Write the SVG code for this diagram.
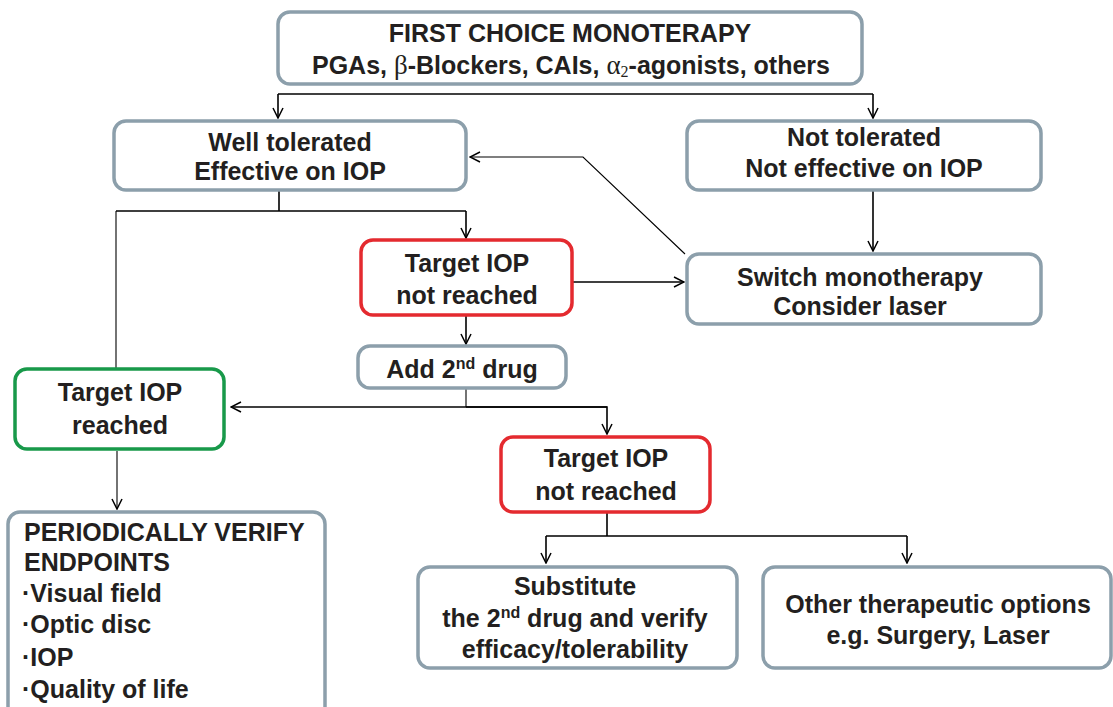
<svg xmlns="http://www.w3.org/2000/svg" width="1113" height="707" viewBox="0 0 1113 707">
<defs>
<marker id="arr" viewBox="0 0 12 12" refX="11" refY="6" markerWidth="12" markerHeight="12" markerUnits="userSpaceOnUse" orient="auto">
<path d="M1,1 L11,6 L1,11" fill="none" stroke="#000" stroke-width="1.5"/>
</marker>
<style>
.box{fill:#fff;stroke:#8c9fab;stroke-width:3.5}
.red{fill:#fff;stroke:#e42a2f;stroke-width:3.5}
.green{fill:#fff;stroke:#18994a;stroke-width:3.5}
.t{font-family:"Liberation Sans",Arial,sans-serif;font-weight:bold;font-size:25px;fill:#231f20;text-anchor:middle}
.l{text-anchor:start}
.g{font-family:"Liberation Serif","Times New Roman",serif;font-weight:normal}
.c{fill:none;stroke:#000;stroke-width:1.6}
.thin{fill:none;stroke:#000;stroke-width:1.1}
</style>
</defs>
<rect width="1113" height="707" fill="#fff"/>

<g id="connectors">
<path class="c" d="M278,94 H873"/>
<path class="c" d="M278,94 V118" marker-end="url(#arr)"/>
<path class="c" d="M873,94 V118" marker-end="url(#arr)"/>
<path class="c" d="M279,191 V211 M116,211 H466"/>
<path class="c" d="M466,211 V238" marker-end="url(#arr)"/>
<path class="thin" d="M116,211 V368"/>
<path class="c" d="M873,191 V251" marker-end="url(#arr)"/>
<path class="c" d="M573,282 H684" marker-end="url(#arr)"/>
<path class="thin" d="M685,254 L583,157 H470" marker-end="url(#arr)"/>
<path class="c" d="M466,316 V344" marker-end="url(#arr)"/>
<path class="thin" d="M466,389 V407"/>
<path class="c" d="M607,407 H231" marker-end="url(#arr)"/>
<path class="c" d="M466,407 H607 V434" marker-end="url(#arr)"/>
<path class="thin" d="M117,451 V509" marker-end="url(#arr)"/>
<path class="c" d="M607,513 V536 M546,536 H907"/>
<path class="c" d="M546,536 V563" marker-end="url(#arr)"/>
<path class="c" d="M907,536 V563" marker-end="url(#arr)"/>
</g>

<g id="first-choice">
<rect class="box" x="278" y="12" width="584" height="72" rx="12"/>
<text class="t" x="570" y="42">FIRST CHOICE MONOTERAPY</text>
<text class="t" x="571" y="74">PGAs, <tspan class="g" font-size="27">β</tspan>-Blockers, CAIs, <tspan class="g" font-size="27">α</tspan><tspan class="g" font-size="16" dy="3">2</tspan><tspan dy="-3">-agonists, others</tspan></text>
</g>

<g id="well-tolerated">
<rect class="box" x="114" y="121" width="352" height="69" rx="12"/>
<text class="t" x="290" y="151">Well tolerated</text>
<text class="t" x="290" y="180">Effective on IOP</text>
</g>

<g id="not-tolerated">
<rect class="box" x="687" y="121" width="354" height="69" rx="12"/>
<text class="t" x="864" y="146">Not tolerated</text>
<text class="t" x="864" y="177">Not effective on IOP</text>
</g>

<g id="switch">
<rect class="box" x="687" y="254" width="354" height="70" rx="12"/>
<text class="t" x="860" y="286">Switch monotherapy</text>
<text class="t" x="860" y="315">Consider laser</text>
</g>

<g id="not-reached-1">
<rect class="red" x="361" y="240" width="211" height="75" rx="12"/>
<text class="t" x="467" y="272">Target IOP</text>
<text class="t" x="467" y="304">not reached</text>
</g>

<g id="add-2nd">
<rect class="box" x="358" y="346" width="208" height="42" rx="12"/>
<text class="t" x="462" y="378">Add 2<tspan font-size="16" dy="-9">nd</tspan><tspan dy="9"> drug</tspan></text>
</g>

<g id="reached">
<rect class="green" x="15" y="369" width="209" height="80" rx="12"/>
<text class="t" x="120" y="401">Target IOP</text>
<text class="t" x="120" y="434">reached</text>
</g>

<g id="periodically">
<rect class="box" x="8" y="512" width="317" height="210" rx="12"/>
<text class="t l" x="24" y="541">PERIODICALLY VERIFY</text>
<text class="t l" x="24" y="571">ENDPOINTS</text>
<text class="t l" x="22" y="602">·Visual field</text>
<text class="t l" x="22" y="633">·Optic disc</text>
<text class="t l" x="22" y="666">·IOP</text>
<text class="t l" x="22" y="698">·Quality of life</text>
</g>

<g id="not-reached-2">
<rect class="red" x="501" y="437" width="209" height="75" rx="12"/>
<text class="t" x="606" y="467">Target IOP</text>
<text class="t" x="606" y="500">not reached</text>
</g>

<g id="substitute">
<rect class="box" x="418" y="567" width="319" height="101" rx="12"/>
<text class="t" x="575" y="595">Substitute</text>
<text class="t" x="575" y="627">the 2<tspan font-size="16" dy="-9">nd</tspan><tspan dy="9"> drug and verify</tspan></text>
<text class="t" x="575" y="658">efficacy/tolerability</text>
</g>

<g id="other">
<rect class="box" x="763" y="567" width="348" height="101" rx="12"/>
<text class="t" x="938" y="613">Other therapeutic options</text>
<text class="t" x="938" y="644">e.g. Surgery, Laser</text>
</g>
</svg>
